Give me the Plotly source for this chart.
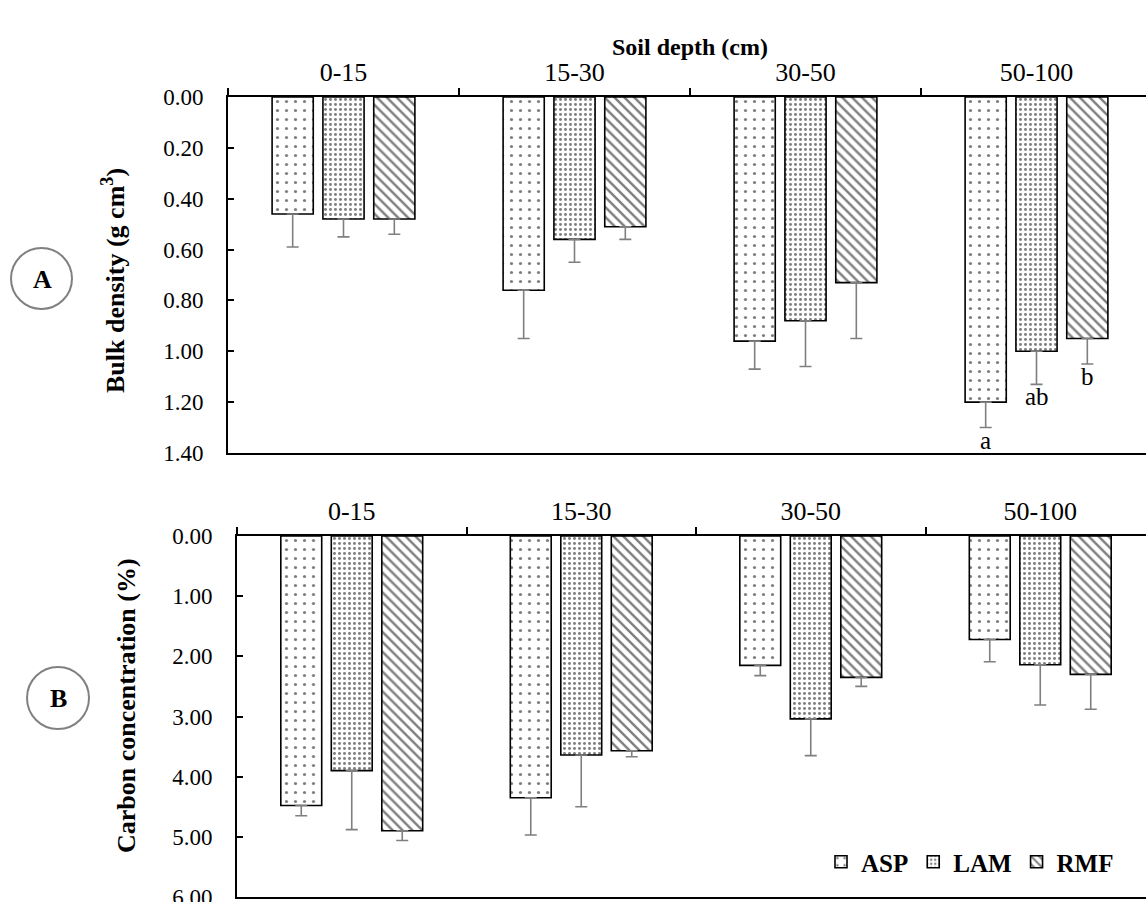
import plotly.graph_objects as go

W, H = 1146, 902

depths = ["0-15", "15-30", "30-50", "50-100"]
series = ["ASP", "LAM", "RMF"]

# Panel A: bulk density (g cm-3)
bd_ASP = [0.46, 0.76, 0.96, 1.20]
bd_LAM = [0.48, 0.56, 0.88, 1.00]
bd_RMF = [0.48, 0.51, 0.73, 0.95]
bd_err_ASP = [0.13, 0.19, 0.11, 0.10]
bd_err_LAM = [0.07, 0.09, 0.18, 0.13]
bd_err_RMF = [0.06, 0.05, 0.22, 0.10]
letters_ASP = ["", "", "", "a"]
letters_LAM = ["", "", "", "ab"]
letters_RMF = ["", "", "", "b"]

# Panel B: carbon concentration (%)
cc_ASP = [4.48, 4.35, 2.15, 1.72]
cc_LAM = [3.90, 3.64, 3.04, 2.14]
cc_RMF = [4.90, 3.57, 2.35, 2.30]
cc_err_ASP = [0.17, 0.62, 0.17, 0.37]
cc_err_LAM = [0.98, 0.86, 0.61, 0.67]
cc_err_RMF = [0.16, 0.10, 0.15, 0.58]

bd_ticks = [0.0, 0.2, 0.4, 0.6, 0.8, 1.0, 1.2, 1.4]
cc_ticks = [0, 1, 2, 3, 4, 5, 6]

SERIF = "Liberation Serif"
patterns = {
    "ASP": dict(shape=".", size=9, solidity=0.1, fgcolor="black", bgcolor="white"),
    "LAM": dict(shape=".", size=5, solidity=0.28, fgcolor="black", bgcolor="white"),
    "RMF": dict(shape="\\", size=7, solidity=0.35, fgcolor="black", bgcolor="white"),
}

fig = go.Figure()

bdvals = {"ASP": (bd_ASP, bd_err_ASP), "LAM": (bd_LAM, bd_err_LAM), "RMF": (bd_RMF, bd_err_RMF)}
ccvals = {"ASP": (cc_ASP, cc_err_ASP), "LAM": (cc_LAM, cc_err_LAM), "RMF": (cc_RMF, cc_err_RMF)}

for s in series:
    v, e = bdvals[s]
    fig.add_trace(go.Bar(
        x=depths, y=v, name=s, legendgroup=s, showlegend=False,
        xaxis="x", yaxis="y",
        marker=dict(color="white", line=dict(color="black", width=1.6), pattern=patterns[s]),
        error_y=dict(type="data", symmetric=False, array=e, arrayminus=[0] * len(e),
                     color="#7f7f7f", thickness=1.6, width=6),
    ))
for s in series:
    v, e = ccvals[s]
    fig.add_trace(go.Bar(
        x=depths, y=v, name=s, legendgroup=s, showlegend=True,
        xaxis="x2", yaxis="y2",
        marker=dict(color="white", line=dict(color="black", width=1.6), pattern=patterns[s]),
        error_y=dict(type="data", symmetric=False, array=e, arrayminus=[0] * len(e),
                     color="#7f7f7f", thickness=1.6, width=6),
    ))

def px_x(p):
    return p / W

def px_y(p):
    return 1 - p / H

# plot areas in pixels
A_left, A_top, A_bot = 228, 97, 453
B_left, B_top, B_bot = 237, 536, 897

xcommon = dict(type="category", side="top", showline=True, linecolor="black", linewidth=1.6,
               mirror=True, ticks="outside", tickson="boundaries", ticklen=7, tickwidth=1.6,
               tickcolor="black", tickfont=dict(family=SERIF, size=26, color="black"),
               showgrid=False, zeroline=False, fixedrange=True, automargin=False,
               ticklabelstandoff=4)
ycommon = dict(showline=True, linecolor="black", linewidth=1.6, ticks="inside", ticklen=6,
               tickwidth=1.6, tickcolor="black", tickfont=dict(family=SERIF, size=23, color="black"),
               showgrid=False, zeroline=False, tickformat=".2f", ticklabelstandoff=18,
               automargin=False, fixedrange=True, ticklabeloverflow="allow")

fig.update_layout(
    width=W, height=H,
    margin=dict(l=0, r=0, t=0, b=0, pad=0),
    paper_bgcolor="white", plot_bgcolor="white",
    barmode="group", bargap=0.34, bargroupgap=0.19,
    xaxis=dict(xcommon, domain=[px_x(A_left), 1], anchor="y",
               range=[-0.5, -0.5 + (W - A_left) / 231.0]),
    yaxis=dict(ycommon, domain=[px_y(A_bot), px_y(A_top)], anchor="x",
               range=[bd_ticks[-1], bd_ticks[0]], tickvals=bd_ticks),
    xaxis2=dict(xcommon, domain=[px_x(B_left), 1], anchor="y2",
                range=[-0.5, -0.5 + (W - B_left) / 229.5]),
    yaxis2=dict(ycommon, domain=[px_y(B_bot), px_y(B_top)], anchor="x2",
                range=[cc_ticks[-1], cc_ticks[0]], tickvals=cc_ticks),
    legend=dict(orientation="h", x=1119 / W, xanchor="right", y=px_y(862), yanchor="middle",
                font=dict(family=SERIF, size=25, color="black", weight="bold"),
                bgcolor="rgba(0,0,0,0)", itemwidth=30, tracegroupgap=0),
    showlegend=True,
)

def ann(text, xp, yp, size, angle=0):
    return dict(text=text, x=px_x(xp), y=px_y(yp), xref="paper", yref="paper",
                xanchor="center", yanchor="middle", showarrow=False, textangle=angle,
                font=dict(family=SERIF, size=size, color="black"))

annotations = [
    ann("<b>Soil depth (cm)</b>", 690, 47, 24),
    ann("<b>Bulk density (g cm<sup>3</sup>)</b>", 113, 281, 26, -90),
    ann("<b>Carbon concentration (%)</b>", 126, 706, 26, -90),
    ann("<b>A</b>", 42, 279, 26),
    ann("<b>B</b>", 58, 698, 26),
]

letters = {"ASP": letters_ASP, "LAM": letters_LAM, "RMF": letters_RMF}
offsets = {"ASP": -51, "LAM": 0, "RMF": 51}
for s in series:
    v, e = bdvals[s]
    for i, d in enumerate(depths):
        if letters[s][i]:
            annotations.append(dict(text=letters[s][i], x=d, y=v[i] + e[i], xref="x", yref="y",
                                    xanchor="center", xshift=offsets[s], yanchor="top", yshift=3,
                                    showarrow=False,
                                    font=dict(family=SERIF, size=25, color="black")))
fig.update_layout(annotations=annotations)

fig.update_layout(shapes=[
    dict(type="circle", xref="paper", yref="paper",
         x0=px_x(11), x1=px_x(72), y0=px_y(309), y1=px_y(248),
         line=dict(color="#808080", width=2)),
    dict(type="circle", xref="paper", yref="paper",
         x0=px_x(27), x1=px_x(89), y0=px_y(729), y1=px_y(667),
         line=dict(color="#808080", width=2)),
])

fig.write_html("out.html", config={"displayModeBar": False},
               post_script="document.body.style.margin='0';")
